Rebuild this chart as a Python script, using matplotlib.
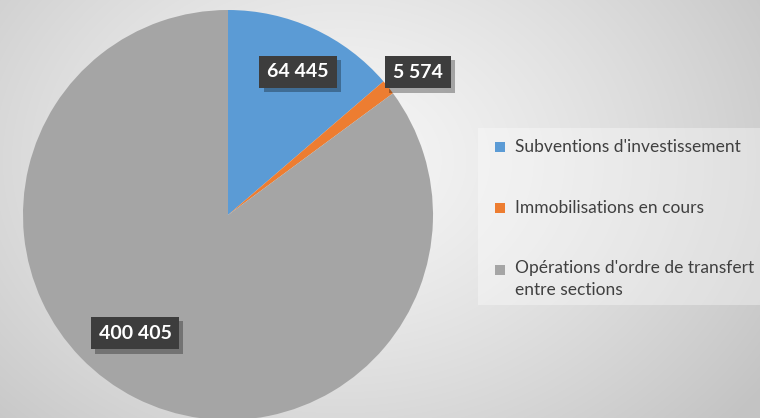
import numpy as np
import matplotlib
matplotlib.use("Agg")
import matplotlib.pyplot as plt
import matplotlib.patheffects as pe
from matplotlib.patches import Rectangle

categories = ["Subventions d'investissement", "Immobilisations en cours",
              "Opérations d'ordre de transfert\nentre sections"]
values = [64445, 5574, 400405]
labels = ["64 445", "5 574", "400 405"]
colors = ["#5B9BD5", "#ED7D31", "#A5A5A5"]

W, H = 760, 418
fig = plt.figure(figsize=(W / 100, H / 100), dpi=100)

# radial gradient background
bg = fig.add_axes([0, 0, 1, 1])
yy, xx = np.mgrid[0:H, 0:W]
cx, cy = 340, 160
d = np.sqrt(((xx - cx) / 520.0) ** 2 + ((yy - cy) / 400.0) ** 2)
d = np.clip(d, 0, 1)
v = 0.965 - 0.20 * d ** 1.3
bg.imshow(np.dstack([v, v, v]), extent=[0, W, H, 0], aspect="auto")
bg.set_xlim(0, W)
bg.set_ylim(H, 0)
bg.axis("off")

# pie
R = 205
cxp, cyp = 228, H - 215
ax = fig.add_axes([(cxp - R) / W, (cyp - R) / H, 2 * R / W, 2 * R / H])
wedges, _ = ax.pie(values, colors=colors, startangle=90, counterclock=False,
                   radius=1.0, wedgeprops=dict(linewidth=0))
ax.set_xlim(-1, 1)
ax.set_ylim(-1, 1)
ax.set_aspect("auto")
ax.axis("off")

# data labels
label_pos = [(0.777, -1.4), (1.16, -1.6), (0.733, -11.4)]  # (radius fraction, angle tweak deg)
total = sum(values)
start = 90.0
for val, lab, (rf, tweak) in zip(values, labels, label_pos):
    span = 360.0 * val / total
    mid = np.deg2rad(start - span / 2 + tweak)
    start -= span
    x, y = rf * np.cos(mid), rf * np.sin(mid)
    t = ax.text(x, y, lab, ha="center", va="center", color="white",
                fontsize=14, fontfamily="Lato", fontweight="bold",
                bbox=dict(boxstyle="square,pad=0.4", fc="#3d3d3d", ec="none"),
                zorder=5)
    t.get_bbox_patch().set_path_effects(
        [pe.SimplePatchShadow(offset=(3, -3), shadow_rgbFace="black", alpha=0.3),
         pe.Normal()])

# legend (manual)
fig.patches.append(Rectangle((478 / W, 1 - 305 / H), (W - 478) / W, 177 / H,
                             transform=fig.transFigure, fc=(1, 1, 1, 0.35),
                             ec="none"))
ys = [147, 208, 270]
for c, name, yc in zip(colors, categories, ys):
    fig.patches.append(Rectangle((495 / W, 1 - (yc + 5) / H), 10 / W, 10 / H,
                                 transform=fig.transFigure, fc=c, ec="none"))
    if "\n" in name:
        fig.text(515 / W, 1 - (yc - 10) / H, name, ha="left", va="top",
                 fontsize=12.5, fontfamily="Lato", color="#404040", linespacing=1.45)
    else:
        fig.text(515 / W, 1 - yc / H, name, ha="left", va="center",
                 fontsize=12.5, fontfamily="Lato", color="#404040")

fig.savefig("out.png", dpi=100)
